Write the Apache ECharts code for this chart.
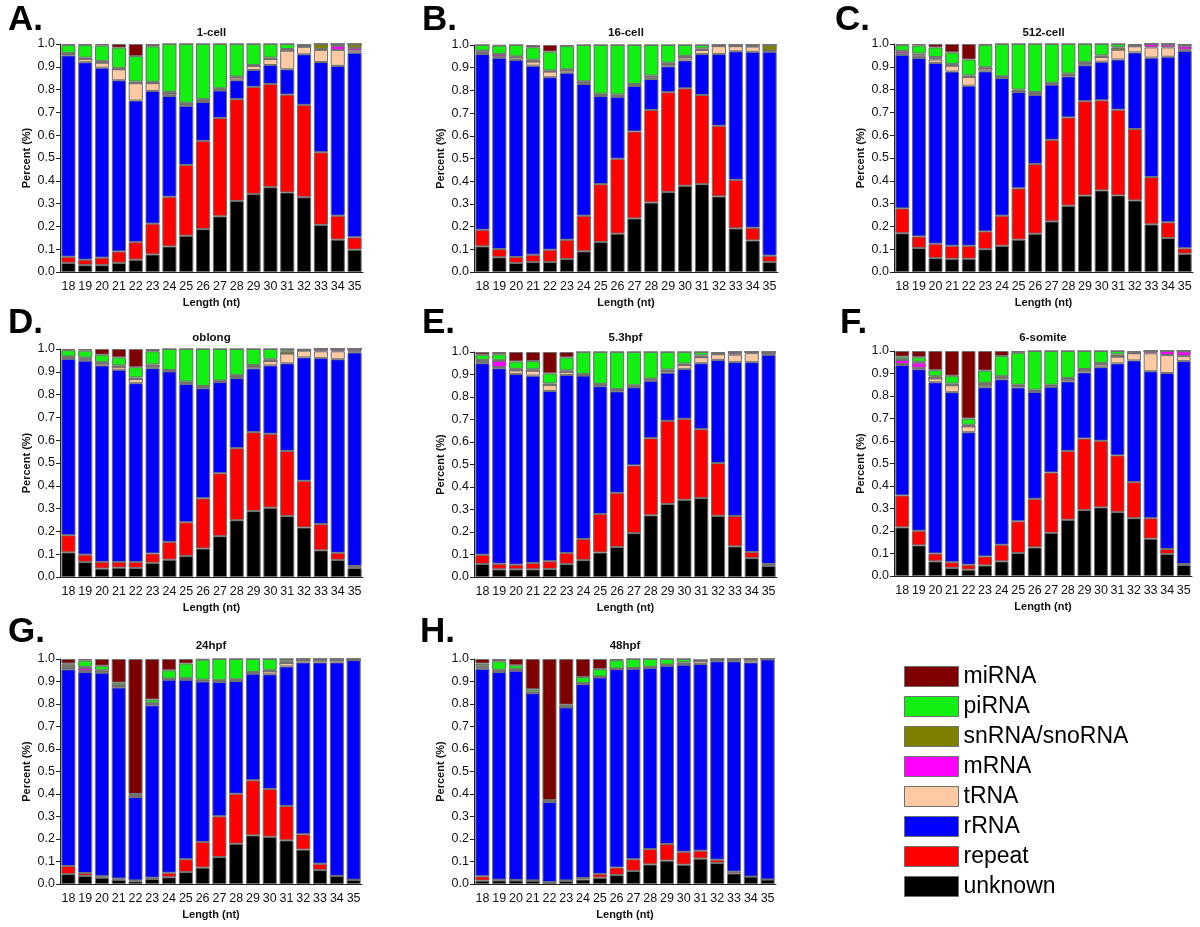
<!DOCTYPE html>
<html><head><meta charset="utf-8">
<script src="https://cdn.jsdelivr.net/npm/echarts@6/dist/echarts.min.js"></script>
<style>html,body{margin:0;padding:0;background:#fff}#c{width:1200px;height:927px}</style>
</head><body><div id="c"></div>
<script>
const lengths = ['18','19','20','21','22','23','24','25','26','27','28','29','30','31','32','33','34','35'];
const stages = ['1-cell','16-cell','512-cell','oblong','5.3hpf','6-somite','24hpf','48hpf'];
const panelLabels = ['A.','B.','C.','D.','E.','F.','G.','H.'];
const seriesNames = ['unknown','repeat','rRNA','tRNA','mRNA','snRNA/snoRNA','piRNA','miRNA'];
const legendOrder = ['miRNA','piRNA','snRNA/snoRNA','mRNA','tRNA','rRNA','repeat','unknown'];

// one row per stage (A..H), one value per length 18..35
const unknown = [
  [.04,.03,.03,.04,.054,.077,.112,.159,.188,.244,.312,.342,.372,.349,.328,.207,.142,.098],
  [.113,.065,.04,.044,.044,.057,.091,.132,.169,.236,.306,.352,.38,.387,.333,.192,.139,.044],
  [.17,.105,.061,.058,.058,.1,.115,.142,.168,.222,.291,.335,.358,.336,.314,.209,.149,.08],
  [.108,.066,.037,.041,.04,.062,.076,.092,.125,.179,.249,.289,.304,.267,.217,.117,.075,.04],
  [.058,.034,.034,.034,.036,.058,.075,.109,.133,.195,.274,.325,.343,.351,.272,.136,.084,.049],
  [.216,.136,.065,.036,.028,.047,.065,.102,.127,.192,.25,.293,.305,.284,.257,.166,.098,.049],
  [.044,.036,.028,.019,.012,.022,.03,.053,.073,.12,.179,.216,.21,.194,.153,.062,.036,.019],
  [.015,.016,.016,.015,.006,.014,.02,.028,.04,.058,.087,.104,.086,.113,.093,.047,.033,.02]
];
const repeat = [
  [.027,.024,.033,.05,.077,.135,.218,.31,.387,.432,.446,.47,.453,.429,.405,.318,.105,.054],
  [.073,.036,.026,.032,.054,.085,.157,.255,.33,.383,.408,.44,.429,.393,.311,.214,.056,.028],
  [.109,.051,.063,.057,.057,.078,.132,.225,.306,.358,.387,.414,.395,.376,.313,.208,.069,.024],
  [.075,.032,.029,.025,.026,.041,.078,.148,.22,.276,.316,.346,.324,.286,.205,.115,.031,.008],
  [.041,.025,.021,.028,.034,.049,.094,.171,.241,.301,.343,.369,.36,.306,.234,.135,.027,.009],
  [.142,.065,.035,.025,.022,.04,.074,.141,.216,.268,.306,.318,.296,.252,.16,.091,.022,.004],
  [.036,.013,.006,.005,.004,.006,.02,.057,.114,.181,.222,.245,.212,.153,.068,.028,0,0],
  [.019,.003,.002,.001,.002,.002,.007,.017,.033,.052,.068,.074,.057,.035,.015,.008,0,0]
];
const rRNA = [
  [.883,.866,.833,.751,.621,.582,.442,.26,.171,.12,.083,.074,.083,.111,.222,.396,.657,.81],
  [.774,.843,.868,.833,.76,.736,.58,.388,.273,.201,.136,.114,.123,.18,.316,.566,.775,.898],
  [.674,.783,.793,.764,.702,.702,.604,.422,.303,.242,.18,.158,.169,.22,.336,.523,.726,.866],
  [.774,.851,.862,.843,.784,.813,.748,.607,.483,.4,.308,.28,.3,.384,.541,.728,.849,.937],
  [.851,.869,.847,.833,.757,.791,.726,.568,.451,.347,.255,.214,.222,.293,.459,.684,.844,.93],
  [.58,.718,.761,.756,.589,.752,.735,.595,.475,.381,.309,.294,.327,.409,.541,.653,.782,.902],
  [.874,.893,.905,.849,.371,.766,.858,.798,.713,.597,.501,.474,.51,.62,.764,.895,.949,.976],
  [.923,.923,.93,.832,.357,.769,.861,.873,.882,.847,.805,.792,.832,.83,.882,.935,.952,.978]
];
const tRNA = [
  [.005,.014,.022,.048,.076,.034,.01,.006,.006,.004,.012,.018,.026,.082,.033,.053,.07,.009],
  [.004,.004,.011,.018,.025,.01,.007,.005,.004,.004,.01,.009,.013,.018,.035,.023,.023,.005],
  [.004,.005,.015,.026,.038,.012,.004,.003,.006,.004,.007,.008,.021,.043,.027,.045,.041,.005],
  [.003,.004,.009,.013,.018,.01,.003,.005,.005,.003,.007,.008,.019,.043,.03,.03,.035,.005],
  [.004,.005,.016,.022,.026,.014,.003,.005,.005,.003,.006,.008,.017,.027,.025,.033,.04,.005],
  [.004,.006,.017,.031,.026,.011,.008,.007,.005,.004,.008,.009,.012,.03,.032,.08,.08,.023],
  [.006,.005,.005,.005,.003,.006,.002,.004,.004,.004,.004,.003,.013,.015,.01,.01,.01,0],
  [.005,.002,.002,.002,.002,.002,.002,.002,.002,.002,.002,.002,.003,.012,.005,.005,.01,0]
];
const mRNA = [
  [0,0,0,0,0,0,0,0,0,0,0,0,0,0,0,.004,.017,.011],
  [.008,.01,0,0,0,0,0,0,0,0,0,0,0,0,0,0,.003,0],
  [.01,.006,.005,0,0,0,0,0,0,0,0,0,0,0,0,.015,.012,.015],
  [.004,.005,0,0,0,0,0,0,0,0,0,0,0,0,0,.01,.01,.01],
  [.006,.027,0,0,0,0,0,0,0,0,0,0,0,0,0,.008,.005,0],
  [.018,.023,0,0,0,0,0,0,0,0,0,0,0,0,0,.01,.018,.02],
  [.005,.013,0,0,0,0,0,0,0,0,0,0,0,0,0,0,0,0],
  [.004,.004,0,0,0,0,0,0,0,0,0,0,0,0,0,0,.005,0]
];
const snRNA = [
  [.005,.006,.007,.006,.007,.006,.008,.007,.006,.006,.004,.004,.006,.007,.007,.022,.009,.018],
  [.003,.002,.005,.008,.005,.005,.005,.005,.006,.004,.005,.007,.007,.007,.005,.005,.004,.025],
  [.003,.008,.006,.007,.007,.006,.003,.008,.006,.004,.005,.005,.007,.01,.005,0,.003,.005],
  [.003,.004,.005,.006,.007,.006,.003,.005,.005,.004,.005,.007,.008,.01,.004,0,0,0],
  [.005,.003,.007,.006,.007,.006,.004,.005,.005,.006,.004,.006,.006,.008,.005,.004,0,.007],
  [.003,.004,.01,.007,.007,.008,.006,.005,.005,.005,.007,.006,.006,.01,.005,0,0,.002],
  [.01,.005,.006,.006,.004,.005,.003,.003,.004,.004,.004,.004,.005,.008,.005,.005,.005,.005],
  [.006,.004,.005,.005,.003,.003,.003,.002,.001,.001,.003,.003,.007,.005,.005,.005,0,.002]
];
const piRNA = [
  [.035,.055,.068,.089,.112,.156,.21,.258,.242,.194,.143,.092,.06,.022,0,0,0,0],
  [.025,.037,.05,.055,.083,.103,.16,.215,.218,.172,.135,.078,.048,.015,0,0,0,0],
  [.025,.035,.042,.051,.07,.098,.142,.2,.211,.17,.13,.08,.05,.015,0,0,0,0],
  [.028,.031,.033,.035,.045,.058,.092,.143,.162,.138,.115,.07,.045,.01,0,0,0,0],
  [.023,.027,.033,.037,.045,.058,.098,.142,.165,.148,.118,.078,.052,.015,0,0,0,0],
  [.012,.02,.027,.035,.028,.055,.09,.142,.172,.15,.12,.08,.054,.015,0,0,0,0],
  [.005,.028,.02,.011,.006,.015,.037,.065,.089,.094,.09,.058,.05,.01,0,0,0,0],
  [.008,.038,.017,.01,.003,.007,.027,.033,.037,.04,.035,.025,.015,0,0,0,0,0]
];
const miRNA = [
  [.005,.005,.007,.016,.053,.01,0,0,0,0,0,0,0,0,.005,0,0,0],
  [0,.003,0,.01,.029,.004,0,0,0,0,0,0,0,0,0,0,0,0],
  [.005,.007,.015,.037,.068,.004,0,0,0,0,0,0,0,0,.005,0,0,.005],
  [.005,.007,.025,.037,.08,.01,0,0,0,0,0,0,0,0,.003,0,0,0],
  [.012,.01,.042,.04,.095,.024,0,0,0,0,0,0,0,0,.005,0,0,0],
  [.025,.028,.085,.11,.3,.087,.022,.008,0,0,0,0,0,0,.005,0,0,0],
  [.02,.007,.03,.105,.6,.18,.05,.02,.003,0,0,0,0,0,0,0,0,0],
  [.02,.01,.028,.135,.627,.203,.08,.045,.005,0,0,0,0,0,0,0,0,0]
];

const seriesData = [unknown, repeat, rRNA, tRNA, mRNA, snRNA, piRNA, miRNA];
const colors = {
  'unknown':'#000000','repeat':'#ff0000','rRNA':'#0000ff','tRNA':'#fdcaa4',
  'mRNA':'#ff00ff','snRNA/snoRNA':'#7f7f00','piRNA':'#11f011','miRNA':'#7f0000'
};

// layout (pixels)
const gridBoxes = [[60,44,303,228],[474,45,304,227],[894,44,299,228],
                   [60,349,303,228],[474,352,303,225],[894,351,298,225],
                   [60,659,302,225],[474,659,302,225]];
const letterPos = [[8,21],[422,21],[835,21],[8,324],[422,324],[840,324],[8,633],[420,633]];
const titleY = [33,33,33,338,338,338,646,646];

const FONT = '"Liberation Sans", Arial, sans-serif';
const grid=[], xAxis=[], yAxis=[], series=[], graphic=[];
gridBoxes.forEach((b,i)=>{
  grid.push({left:b[0], top:b[1], width:b[2], height:b[3]});
  xAxis.push({type:'category', gridIndex:i, data:lengths,
    name:'Length (nt)', nameLocation:'middle', nameGap:25,
    nameTextStyle:{fontFamily:FONT, fontWeight:'bold', fontSize:11, color:'#111'},
    axisLine:{lineStyle:{color:'#222', width:1}}, axisTick:{show:false},
    axisLabel:{fontFamily:FONT, fontSize:12.5, color:'#111', margin:8, interval:0}});
  yAxis.push({type:'value', gridIndex:i, min:0, max:1, interval:0.1,
    name:'Percent (%)', nameLocation:'middle', nameGap:28,
    nameTextStyle:{fontFamily:FONT, fontWeight:'bold', fontSize:11, color:'#111'},
    splitLine:{show:false},
    axisLine:{show:true, lineStyle:{color:'#222', width:1}},
    axisTick:{show:true, length:4, lineStyle:{color:'#222'}},
    axisLabel:{fontFamily:FONT, fontSize:12.5, color:'#111', margin:5, formatter:v=>v.toFixed(1)}});
  seriesNames.forEach((nm,k)=>{
    series.push({type:'bar', name:nm, xAxisIndex:i, yAxisIndex:i, stack:'s'+i,
      data:seriesData[k][i], barCategoryGap:'16%',
      itemStyle:{color:colors[nm], borderColor:'#707070', borderWidth:1}});
  });
  graphic.push({type:'text', left:letterPos[i][0], top:letterPos[i][1]-18,
    style:{text:panelLabels[i], font:'bold 35px '+FONT, fill:'#000'}});
  graphic.push({type:'text', x:b[0]+b[2]/2, y:titleY[i],
    style:{text:stages[i], font:'bold 11.5px '+FONT, fill:'#111', textAlign:'center', textVerticalAlign:'middle'}});
});

const chart = echarts.init(document.getElementById('c'), null, {renderer:'canvas'});
chart.setOption({
  animation:false,
  backgroundColor:'#fff',
  grid, xAxis, yAxis, series, graphic,
  legend:{orient:'vertical', left:899, top:660, data:legendOrder, icon:'rect',
    itemWidth:54, itemHeight:20, itemGap:7, selectedMode:false,
    itemStyle:{borderColor:'#707070', borderWidth:1},
    textStyle:{fontFamily:FONT, fontSize:23, color:'#000', padding:0}}
});
</script></body></html>
